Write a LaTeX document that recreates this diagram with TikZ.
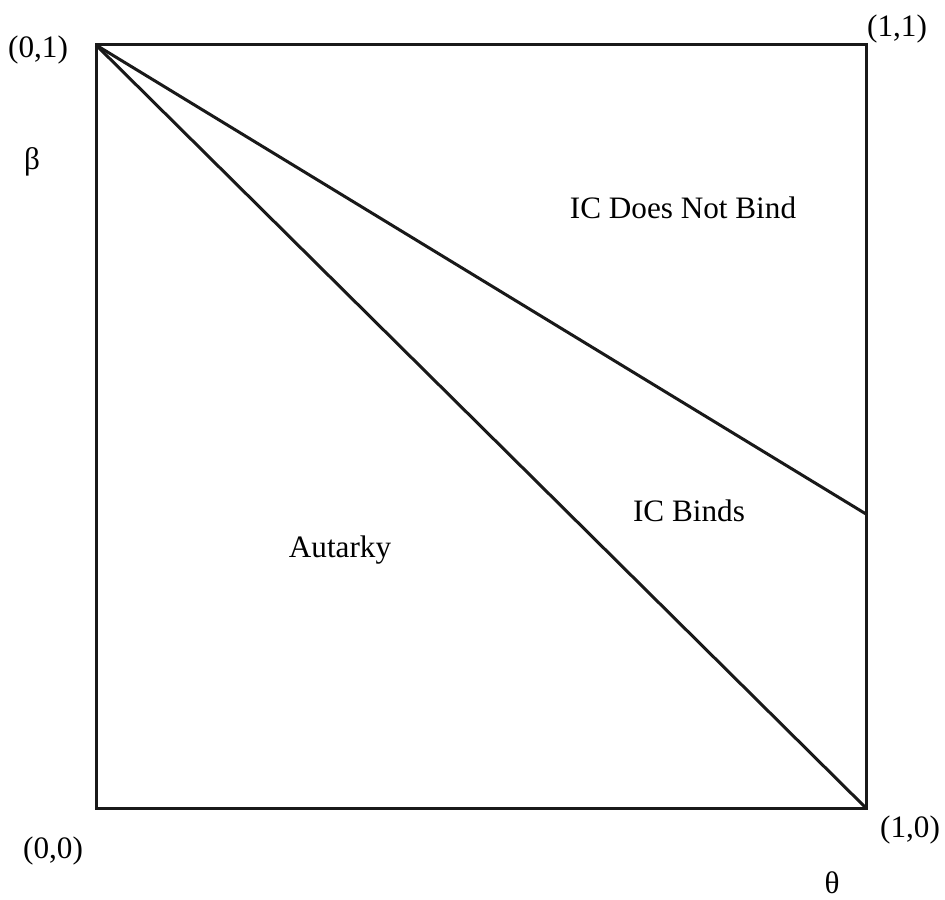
\documentclass[tikz,border=0pt]{standalone}
\usepackage{fontspec}
\setmainfont{Liberation Serif}
\usepackage{tikz}
\usetikzlibrary{positioning}
\tikzset{
  edge/.style={line width=1.5pt, draw=black!90, line join=miter},
  lab/.style={font=\fontsize{15.6}{18}\selectfont, inner sep=0pt, anchor=base}
}

\begin{document}
\begin{tikzpicture}[x=0.5pt, y=-0.5pt]
  \useasboundingbox (0,0) rectangle (945,899);
  % corners of the unit square
  \coordinate (o) at (96,808);
  \coordinate (t) at (96,45);
  \coordinate (r) at (866,808);
  \coordinate (tr) at (866,45);
  \coordinate (m) at (866,514);
  \draw[edge] (o) -- (t) -- (tr) -- (r) -- cycle;
  \draw[edge] (t) -- (m);
  \draw[edge] (t) -- (r);
  % corner and axis labels
  \node[lab] (l01) at (38,58) {(0,1)};
  \node[lab] (l11) at (897,37) {(1,1)};
  \node[lab] (l00) at (53,858) {(0,0)};
  \node[lab] (l10) at (910,837) {(1,0)};
  \node[lab] (beta) at (32,169) {β};
  \node[lab] (theta) at (832,893) {θ};
  % regions
  \node[lab] (nb) at (683,218) {IC Does Not Bind};
  \node[lab] (bi) at (689,521) {IC Binds};
  \node[lab] (au) at (340,557) {Autarky};
\end{tikzpicture}
\end{document}
